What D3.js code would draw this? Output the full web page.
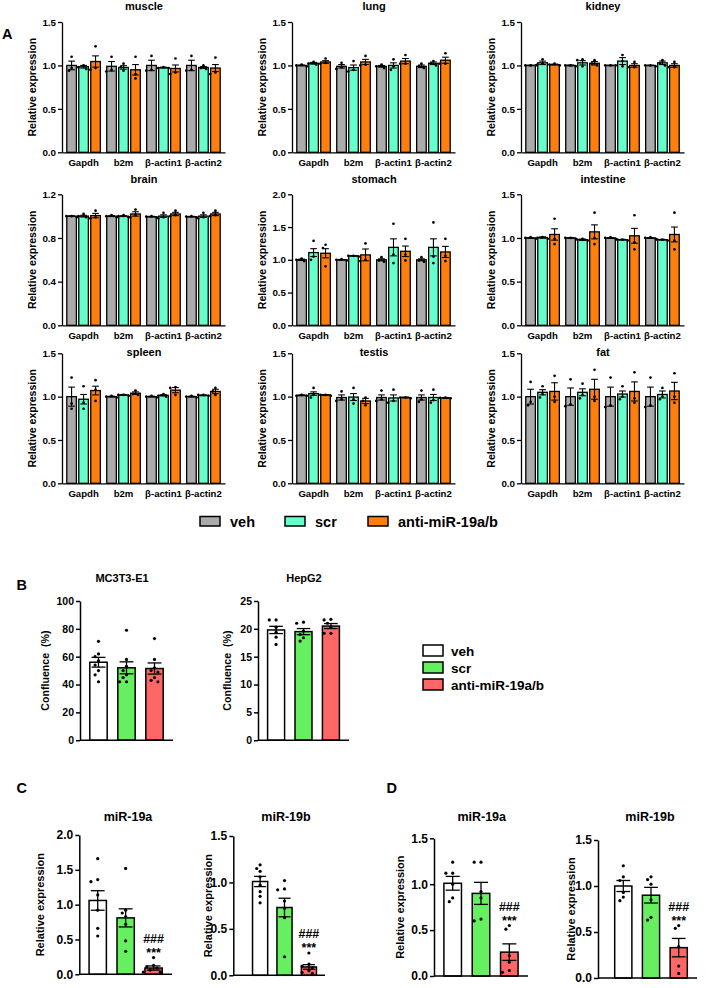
<!DOCTYPE html>
<html><head><meta charset="utf-8">
<script src="https://cdn.jsdelivr.net/npm/d3@7"></script>
<style>
body{margin:0;background:#fff}
svg{display:block}
text{font-family:"Liberation Sans",Arial,Helvetica,sans-serif;font-weight:bold;fill:#000}
</style>
</head><body>
<svg id="c" width="709" height="988"></svg>
<script>
// ---------------- DATA: panel A ----------------
const genes = ["Gapdh", "b2m", "β-actin1", "β-actin2"];
const seriesA = ["veh", "scr", "anti-miR-19a/b"];
const colorsA = ["#ABABAB", "#66FFCC", "#FF7F0E"];
const tissues = ["muscle", "lung", "kidney", "brain", "stomach", "intestine", "spleen", "testis", "fat"];
const tissueMax = [1.5, 1.5, 1.5, 1.2, 2.0, 1.5, 1.5, 1.5, 1.5];
const tissueStep = [0.5, 0.5, 0.5, 0.4, 0.5, 0.5, 0.5, 0.5, 0.5];

const muscleMean = [[1.00,0.985,1.045],[0.99,0.977,0.95],[1.00,0.975,0.965],[1.00,0.977,0.97]];
const muscleSem  = [[0.05,0.015,0.065],[0.055,0.02,0.06],[0.06,0.005,0.04],[0.06,0.01,0.04]];
const musclePts  = [[[1.10,0.97,0.94],[1.00,0.98,0.96],[1.22,0.97,0.95]],
                    [[1.10,0.95,0.93],[1.02,0.98,0.94],[1.10,0.90,0.85]],
                    [[1.11,0.95,0.94],[0.98,0.97,0.97],[1.08,0.92,0.90]],
                    [[1.11,0.95,0.94],[1.00,0.97,0.96],[1.09,0.92,0.90]]];

const lungMean = [[1.00,1.025,1.04],[0.99,0.975,1.04],[0.99,1.00,1.05],[0.99,1.025,1.06]];
const lungSem  = [[0.005,0.01,0.015],[0.02,0.03,0.03],[0.01,0.03,0.03],[0.015,0.015,0.035]];
const lungPts  = [[[1.01,1.00,0.99],[1.04,1.02,1.01],[1.08,1.03,1.02]],
                  [[1.03,0.98,0.96],[1.05,0.95,0.93],[1.11,1.01,1.00]],
                  [[1.01,0.99,0.97],[1.07,0.99,0.95],[1.12,1.02,1.02]],
                  [[1.02,0.99,0.97],[1.05,1.02,1.00],[1.14,1.02,1.02]]];

const kidneyMean = [[1.00,1.03,1.01],[1.00,1.03,1.025],[1.00,1.05,1.00],[1.00,1.03,1.00]];
const kidneySem  = [[0.003,0.02,0.005],[0.005,0.025,0.02],[0.003,0.04,0.02],[0.003,0.02,0.02]];
const kidneyPts  = [[[1.00,1.00,1.00],[1.07,1.02,1.01],[1.02,1.01,1.00]],
                    [[1.00,1.00,0.99],[1.07,1.06,0.99],[1.06,1.02,1.00]],
                    [[1.00,1.00,1.00],[1.12,1.05,0.99],[1.04,0.98,0.98]],
                    [[1.00,1.00,0.99],[1.06,1.02,1.00],[1.04,0.98,0.98]]];

const brainMean = [[1.00,1.00,1.005],[1.00,1.00,1.02],[0.995,1.00,1.02],[0.995,1.00,1.02]];
const brainSem  = [[0.003,0.008,0.02],[0.004,0.004,0.02],[0.003,0.012,0.015],[0.003,0.012,0.015]];
const brainPts  = [[[1.00,1.00,0.99],[1.02,1.00,0.99],[1.05,0.99,0.98]],
                   [[1.01,1.00,0.99],[1.01,1.00,0.99],[1.06,1.01,0.99]],
                   [[1.00,0.995,0.99],[1.03,0.99,0.98],[1.05,1.01,1.00]],
                   [[1.00,0.995,0.99],[1.03,0.99,0.98],[1.05,1.01,1.00]]];

const stomachMean = [[1.00,1.11,1.10],[1.00,1.06,1.075],[1.00,1.19,1.13],[1.00,1.19,1.12]];
const stomachSem  = [[0.01,0.06,0.07],[0.005,0.005,0.09],[0.015,0.13,0.08],[0.015,0.13,0.085]];
const stomachPts  = [[[1.02,1.00,0.98],[1.29,1.05,1.00],[1.23,1.18,0.90]],
                     [[1.01,1.00,0.99],[1.06,1.06,1.05],[1.25,1.00,0.98]],
                     [[1.04,0.99,0.97],[1.55,1.08,0.95],[1.32,1.08,0.99]],
                     [[1.04,0.99,0.97],[1.57,1.05,0.95],[1.32,1.06,0.98]]];

const intestineMean = [[1.00,1.005,1.04],[1.00,0.98,1.07],[1.00,0.98,1.025],[1.00,0.98,1.04]];
const intestineSem  = [[0.005,0.008,0.065],[0.003,0.008,0.08],[0.005,0.004,0.085],[0.005,0.004,0.085]];
const intestinePts  = [[[1.01,1.00,0.99],[1.01,1.00,0.99],[1.22,0.99,0.93]],
                       [[1.00,1.00,0.99],[0.99,0.98,0.97],[1.29,1.00,0.93]],
                       [[1.01,1.00,0.99],[0.98,0.98,0.97],[1.26,0.95,0.87]],
                       [[1.01,1.00,0.99],[0.98,0.98,0.97],[1.29,0.97,0.87]]];

const spleenMean = [[1.00,0.97,1.07],[1.00,1.02,1.04],[1.00,1.015,1.075],[1.00,1.015,1.06]];
const spleenSem  = [[0.11,0.055,0.05],[0.005,0.005,0.015],[0.005,0.008,0.03],[0.005,0.005,0.025]];
const spleenPts  = [[[1.22,0.92,0.86],[1.12,0.93,0.86],[1.19,1.08,0.95]],
                    [[1.01,1.00,0.99],[1.02,1.02,1.01],[1.07,1.03,1.02]],
                    [[1.01,1.00,0.99],[1.03,1.01,1.00],[1.11,1.10,1.02]],
                    [[1.01,1.00,0.99],[1.02,1.02,1.01],[1.10,1.06,1.02]]];

const testisMean = [[1.015,1.035,1.02],[0.99,0.995,0.95],[0.99,0.985,0.99],[0.99,0.99,0.985]];
const testisSem  = [[0.005,0.02,0.004],[0.03,0.04,0.03],[0.03,0.035,0.005],[0.03,0.035,0.005]];
const testisPts  = [[[1.02,1.01,1.01],[1.10,1.02,0.99],[1.02,1.02,1.01]],
                    [[1.06,0.97,0.95],[1.10,0.97,0.92],[0.99,0.95,0.90]],
                    [[1.07,0.97,0.95],[1.08,0.95,0.93],[0.99,0.99,0.98]],
                    [[1.07,0.97,0.94],[1.08,0.96,0.93],[0.99,0.985,0.98]]];

const fatMean = [[1.00,1.05,1.06],[1.00,1.05,1.085],[1.00,1.03,1.06],[1.00,1.025,1.065]];
const fatSem  = [[0.085,0.03,0.10],[0.10,0.04,0.115],[0.11,0.035,0.11],[0.11,0.04,0.10]];
const fatPts  = [[[1.17,0.94,0.90],[1.12,1.03,0.99],[1.24,1.00,0.94]],
                 [[1.20,0.91,0.89],[1.15,1.02,0.98],[1.31,1.00,0.95]],
                 [[1.22,0.90,0.88],[1.12,1.00,0.97],[1.28,0.98,0.93]],
                 [[1.22,0.90,0.88],[1.10,1.00,0.97],[1.27,1.00,0.93]]];

// ---------------- DATA: panels B-D ----------------
const seriesB = ["veh", "scr", "anti-miR-19a/b"];
const colorsB = ["#FFFFFF", "#66F060", "#FF6666"];

const mc3t3Mean = [56, 52, 51.5];
const mc3t3Sem  = [3.5, 4.3, 4.0];
const mc3t3Pts  = [[71,62,60,57,54,50,47,42],[79,58,53,50,47,45,42,42],[73,58,52,50,49,45,43,42]];

const hepg2Mean = [19.8, 19.5, 20.5];
const hepg2Sem  = [0.65, 0.55, 0.45];
const hepg2Pts  = [[21.6,21.6,20.3,19.4,18.5,17.2],[21.2,21.0,19.6,19.0,18.4,17.8],[21.7,21.6,21.0,20.3,19.2,19.2]];

const c19aMean = [1.06, 0.81, 0.09];
const c19aSem  = [0.14, 0.13, 0.03];
const c19aPts  = [[1.66,1.36,1.33,1.14,0.92,0.66,0.55],[1.52,0.92,0.88,0.83,0.72,0.48,0.33],[0.24,0.13,0.11,0.09,0.06,0.03,0.03]];

const c19bMean = [1.01, 0.73, 0.09];
const c19bSem  = [0.055, 0.10, 0.025];
const c19bPts  = [[1.19,1.15,1.12,1.06,0.97,0.90,0.85,0.78],[1.02,0.93,0.92,0.80,0.72,0.62,0.20],[0.24,0.12,0.10,0.08,0.05,0.03,0.02]];

const d19aMean = [1.01, 0.90, 0.26];
const d19aSem  = [0.075, 0.12, 0.09];
const d19aPts  = [[1.24,1.12,1.12,1.00,0.85,0.81],[1.24,1.24,0.92,0.85,0.62,0.60],[0.55,0.51,0.22,0.15,0.06,0.04]];

const d19bMean = [1.00, 0.90, 0.33];
const d19bSem  = [0.06, 0.085, 0.10];
const d19bPts  = [[1.22,1.10,1.06,0.93,0.88,0.84],[1.10,1.07,1.02,0.85,0.66,0.63],[0.57,0.54,0.34,0.13,0.05]];

const sigLines = ["###", "***"];

// ---------------- DRAWING ----------------
const svg = d3.select("#c");
const tissueMeans = [muscleMean, lungMean, kidneyMean, brainMean, stomachMean, intestineMean, spleenMean, testisMean, fatMean];
const tissueSems  = [muscleSem, lungSem, kidneySem, brainSem, stomachSem, intestineSem, spleenSem, testisSem, fatSem];
const tissuePts   = [musclePts, lungPts, kidneyPts, brainPts, stomachPts, intestinePts, spleenPts, testisPts, fatPts];

function swarm(ys, minDist, gap) {
  const placed = [];
  const cands = [0, -1, 1, -2, 2, -3, 3];
  return ys.map(yv => {
    for (const k of cands) {
      const dx = k * gap;
      if (placed.every(p => Math.hypot(p[0] - dx, p[1] - yv) >= minDist)) { placed.push([dx, yv]); return dx; }
    }
    placed.push([0, yv]); return 0;
  });
}

function styleAxis(a, fs, sw) {
  a.attr("font-size", fs).attr("font-family", null);
  a.selectAll("path,line").attr("stroke", "#000").attr("stroke-width", sw);
  a.selectAll("text").attr("fill", "#000");
}

function drawBar(g, bx, bw, y, m, e, pts, color, opt) {
  g.append("rect").attr("x", bx).attr("y", y(m)).attr("width", bw).attr("height", y(0) - y(m))
    .attr("fill", color).attr("stroke", "#000").attr("stroke-width", opt.barStroke);
  const cx = bx + bw / 2, cw = bw * opt.cap / 2;
  const eg = g.append("g").attr("stroke", "#000").attr("stroke-width", opt.errStroke);
  eg.append("line").attr("x1", cx).attr("x2", cx).attr("y1", y(m - e)).attr("y2", y(m + e));
  eg.append("line").attr("x1", cx - cw).attr("x2", cx + cw).attr("y1", y(m + e)).attr("y2", y(m + e));
  eg.append("line").attr("x1", cx - cw).attr("x2", cx + cw).attr("y1", y(m - e)).attr("y2", y(m - e));
  const ys = pts.map(v => y(v));
  const offs = swarm(ys, opt.minDist, opt.gap);
  g.selectAll(null).data(pts).enter().append("circle")
    .attr("cx", (d, i) => cx + offs[i]).attr("cy", d => y(d)).attr("r", opt.r).attr("fill", "#000");
}

// Panel A layout
const colX = [62, 292, 521];
const rowTop = [22, 194.3, 353.3];
const rowBase = [152.3, 325.3, 483.3];
const titleBase = [9.5, 182.5, 355.5];

tissues.forEach((name, ti) => {
  const col = ti % 3, row = Math.floor(ti / 3);
  const x0 = colX[col];
  const y = d3.scaleLinear().domain([0, tissueMax[ti]]).range([rowBase[row], rowTop[row]]);
  const x = d3.scaleBand().domain(genes).range([x0, x0 + 163]).paddingInner(0.16).paddingOuter(0.12);
  const xs = d3.scaleBand().domain(seriesA).range([0, x.bandwidth()]).paddingInner(0.2);
  const g = svg.append("g");
  genes.forEach((gene, gi) => {
    seriesA.forEach((s, si) => {
      drawBar(g, x(gene) + xs(s), xs.bandwidth(), y, tissueMeans[ti][gi][si], tissueSems[ti][gi][si],
        tissuePts[ti][gi][si], colorsA[si], {barStroke: 1.3, errStroke: 1.1, cap: 0.7, r: 1.35, minDist: 3.6, gap: 2.6});
    });
  });
  const ax = g.append("g").attr("transform", `translate(0,${rowBase[row]})`)
    .call(d3.axisBottom(x).tickSize(0).tickPadding(7).tickSizeOuter(0));
  styleAxis(ax, 9.6, 1.3);
  const ticks = d3.range(0, tissueMax[ti] + 1e-9, tissueStep[ti]);
  const ay = g.append("g").attr("transform", `translate(${x0},0)`)
    .call(d3.axisLeft(y).tickValues(ticks).tickFormat(d3.format(".1f")).tickSizeInner(4).tickSizeOuter(0).tickPadding(2));
  styleAxis(ay, 9.8, 1.3);
  g.append("text").attr("x", x0 - 29.5).attr("y", (rowBase[row] + rowTop[row]) / 2)
    .attr("transform", `rotate(-90,${x0 - 29.5},${(rowBase[row] + rowTop[row]) / 2})`)
    .attr("text-anchor", "middle").attr("dy", "0.35em").attr("font-size", 10.5).text("Relative expression");
  g.append("text").attr("x", x0 + 82).attr("y", titleBase[row]).attr("text-anchor", "middle")
    .attr("font-size", 11).text(name);
});

// Panel A legend
const legA = svg.append("g");
const legAX = [200, 285, 368];
seriesA.forEach((s, i) => {
  legA.append("rect").attr("x", legAX[i]).attr("y", 516.5).attr("width", 20).attr("height", 9.5)
    .attr("fill", colorsA[i]).attr("stroke", "#000").attr("stroke-width", 1.5);
  legA.append("text").attr("x", legAX[i] + 30).attr("y", 526.5).attr("font-size", 14.5).text(s);
});

// Panels B-D
const simpleCharts = [
  {title: "MC3T3-E1", mean: mc3t3Mean, sem: mc3t3Sem, pts: mc3t3Pts, yMax: 100, step: 20, fmt: d3.format("d"),
   x0: 80, band: [80, 173], base: 740.2, top: 601, titleX: 122, titleY: 582, label: "Confluence  (%)", labelX: 45,
   tickFs: 10.5, labelFs: 10.6, titleFs: 11},
  {title: "HepG2", mean: hepg2Mean, sem: hepg2Sem, pts: hepg2Pts, yMax: 25, step: 5, fmt: d3.format("d"),
   x0: 258, band: [258, 349], base: 740.2, top: 601, titleX: 304, titleY: 582, label: "Confluence  (%)", labelX: 227,
   tickFs: 10.5, labelFs: 10.6, titleFs: 11},
  {title: "miR-19a", mean: c19aMean, sem: c19aSem, pts: c19aPts, yMax: 2.0, step: 0.5, fmt: d3.format(".1f"),
   x0: 79.3, band: [79.3, 172], base: 974.3, top: 835, titleX: 128, titleY: 821, label: "Relative expression", labelX: 40,
   tickFs: 12, labelFs: 11, titleFs: 12.5, sig: true},
  {title: "miR-19b", mean: c19bMean, sem: c19bSem, pts: c19bPts, yMax: 1.5, step: 0.5, fmt: d3.format(".1f"),
   x0: 233.3, band: [244, 325], base: 975.3, top: 836, titleX: 286, titleY: 821, label: "Relative expression", labelX: 208.3,
   tickFs: 12, labelFs: 11, titleFs: 12.5, sig: true},
  {title: "miR-19a", mean: d19aMean, sem: d19aSem, pts: d19aPts, yMax: 1.5, step: 0.5, fmt: d3.format(".1f"),
   x0: 434, band: [434, 528], base: 976, top: 838.3, titleX: 481.7, titleY: 821, label: "Relative expression", labelX: 400,
   tickFs: 12, labelFs: 11, titleFs: 12.5, sig: true},
  {title: "miR-19b", mean: d19bMean, sem: d19bSem, pts: d19bPts, yMax: 1.5, step: 0.5, fmt: d3.format(".1f"),
   x0: 598, band: [605, 697], base: 978, top: 840, titleX: 650, titleY: 821, label: "Relative expression", labelX: 570.7,
   tickFs: 12, labelFs: 11, titleFs: 12.5, sig: true}
];

simpleCharts.forEach(c => {
  const g = svg.append("g");
  const y = d3.scaleLinear().domain([0, c.yMax]).range([c.base, c.top]);
  const x = d3.scaleBand().domain(seriesB).range(c.band).paddingInner(0.38).paddingOuter(0.35);
  seriesB.forEach((s, si) => {
    drawBar(g, x(s), x.bandwidth(), y, c.mean[si], c.sem[si], c.pts[si], colorsB[si],
      {barStroke: 1.5, errStroke: 1.3, cap: 0.8, r: 1.6, minDist: 4.2, gap: 3.4});
  });
  g.append("line").attr("x1", c.x0).attr("x2", c.band[1]).attr("y1", c.base).attr("y2", c.base)
    .attr("stroke", "#000").attr("stroke-width", 1.5);
  const ay = g.append("g").attr("transform", `translate(${c.x0},0)`)
    .call(d3.axisLeft(y).tickValues(d3.range(0, c.yMax + 1e-9, c.step)).tickFormat(c.fmt)
      .tickSizeInner(4).tickSizeOuter(0).tickPadding(2));
  styleAxis(ay, c.tickFs, 1.5);
  const ly = (c.base + c.top) / 2;
  g.append("text").attr("x", c.labelX).attr("y", ly).attr("transform", `rotate(-90,${c.labelX},${ly})`)
    .attr("text-anchor", "middle").attr("dy", "0.35em").attr("font-size", c.labelFs)
    .style("white-space", "pre").text(c.label);
  g.append("text").attr("x", c.titleX).attr("y", c.titleY).attr("text-anchor", "middle")
    .attr("font-size", c.titleFs).text(c.title);
  if (c.sig) {
    const top = y(d3.max(c.pts[2]));
    const cx = x(seriesB[2]) + x.bandwidth() / 2;
    g.append("text").attr("x", cx).attr("y", top - 15).attr("text-anchor", "middle").attr("font-size", 12.5).text(sigLines[0]);
    g.append("text").attr("x", cx).attr("y", top - 1).attr("text-anchor", "middle").attr("font-size", 12.5).text(sigLines[1]);
  }
});

// Panel B legend
const legB = svg.append("g");
seriesB.forEach((s, i) => {
  const yy = 645 + i * 17;
  legB.append("rect").attr("x", 423).attr("y", yy).attr("width", 20).attr("height", 11)
    .attr("fill", colorsB[i]).attr("stroke", "#000").attr("stroke-width", 1.5);
  legB.append("text").attr("x", 451).attr("y", yy + 11).attr("font-size", 13.5).text(s);
});

// Panel letters
const letters = [["A", 2, 38.5], ["B", 16.5, 590], ["C", 16.5, 793], ["D", 386.5, 793]];
svg.selectAll(null).data(letters).enter().append("text")
  .attr("x", d => d[1]).attr("y", d => d[2]).attr("font-size", 14.5).text(d => d[0]);
</script>
</body></html>
